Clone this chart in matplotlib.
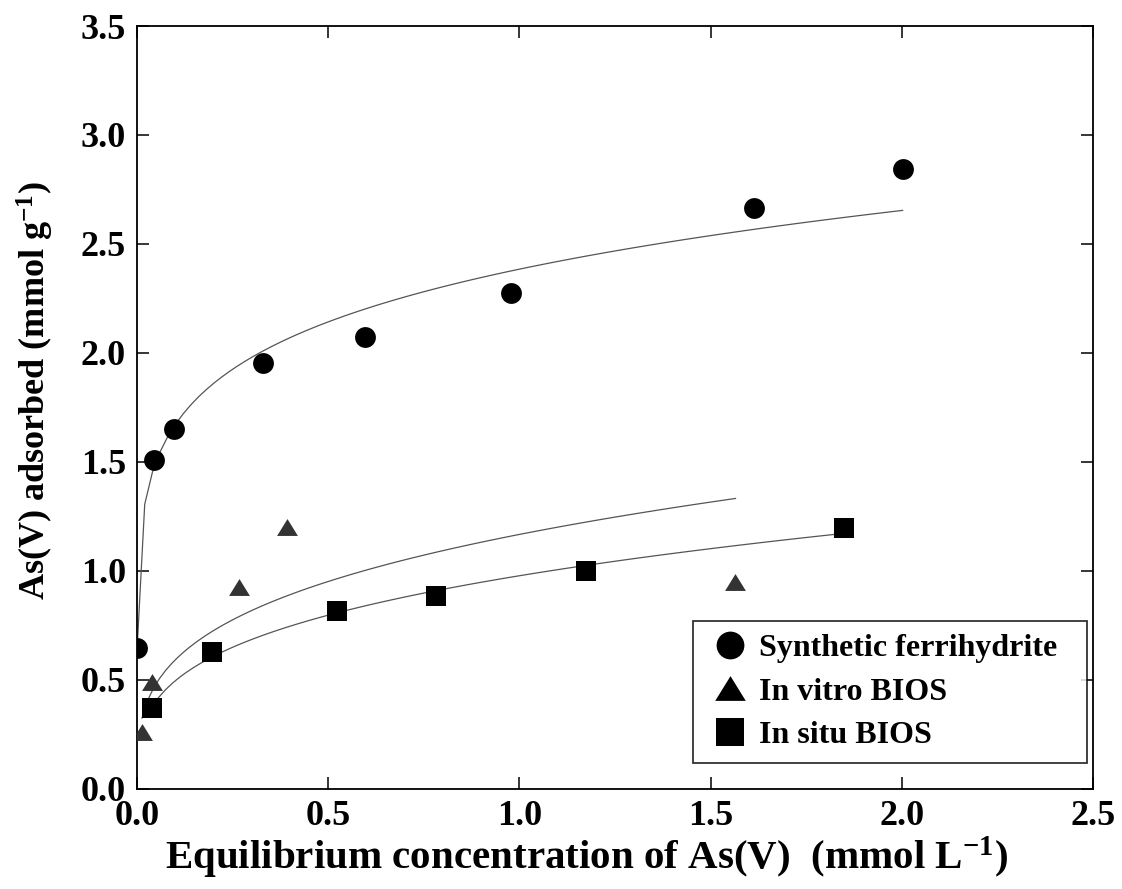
import numpy as np
import matplotlib
matplotlib.use('Agg')
import matplotlib.pyplot as plt
from matplotlib.lines import Line2D

plt.rcParams['font.family'] = 'Liberation Serif'
plt.rcParams['font.weight'] = 'bold'
plt.rcParams['axes.labelweight'] = 'bold'
plt.rcParams['mathtext.fontset'] = 'custom'
plt.rcParams['mathtext.rm'] = 'Liberation Serif:bold'
plt.rcParams['mathtext.bf'] = 'Liberation Serif:bold'
plt.rcParams['mathtext.default'] = 'rm'

# Synthetic ferrihydrite
ferri_x = [0.0002, 0.044, 0.096, 0.330, 0.597, 0.977, 1.613, 2.002]
ferri_y = [0.645, 1.508, 1.650, 1.952, 2.073, 2.273, 2.664, 2.845]
# In vitro BIOS
vitro_x = [0.013, 0.039, 0.266, 0.393, 1.565]
vitro_y = [0.260, 0.490, 0.926, 1.200, 0.949]
# In situ BIOS
situ_x = [0.039, 0.196, 0.522, 0.783, 1.173, 1.850]
situ_y = [0.368, 0.628, 0.815, 0.883, 1.000, 1.194]

labels = ['Synthetic ferrihydrite', 'In vitro BIOS', 'In situ BIOS']
xticks = [0.0, 0.5, 1.0, 1.5, 2.0, 2.5]
yticks = [0.0, 0.5, 1.0, 1.5, 2.0, 2.5, 3.0, 3.5]

tri = [(-1, -0.81), (1, -0.81), (0, 0.81)]


def freundlich(x, y):
    # log-linear fit  y = K x^(1/n)
    x = np.asarray(x)
    b, a = np.polyfit(np.log(x), np.log(y), 1)
    xs = np.linspace(x.min(), x.max(), 101)
    return xs, np.exp(a) * xs ** b


fig = plt.figure(figsize=(11.22, 8.89), dpi=100)
ax = fig.add_axes([0.1221, 0.1130, 0.8521, 0.8577])

for x, y in [(ferri_x, ferri_y), (vitro_x, vitro_y), (situ_x, situ_y)]:
    xs, ys = freundlich(x, y)
    ax.plot(xs, ys, color='#555555', lw=0.9, zorder=2)

ax.plot(ferri_x, ferri_y, ls='none', marker='o', ms=15, color='black', mew=0, zorder=3)
ax.plot(vitro_x, vitro_y, ls='none', marker=tri, ms=15, color='#333333', mew=0, zorder=3)
ax.plot(situ_x, situ_y, ls='none', marker='s', ms=15, color='black', mew=0, zorder=3)

ax.set_xlim(0, 2.5)
ax.set_ylim(0, 3.5)
ax.set_xticks(xticks)
ax.set_yticks(yticks)
ax.set_xticklabels([f'{t:.1f}' for t in xticks])
ax.set_yticklabels([f'{t:.1f}' for t in yticks])
ax.tick_params(direction='in', length=8.6, width=1.1, top=True, right=True,
               labelsize=26, pad=8)
for s in ax.spines.values():
    s.set_linewidth(1.3)

ax.set_xlabel(r'Equilibrium concentration of As(V)  (mmol L$^{-1}$)', fontsize=29.5)
ax.set_ylabel(r'As(V) adsorbed (mmol g$^{-1}$)', fontsize=26)
ax.xaxis.set_label_coords(0.47, -0.061)
ax.yaxis.set_label_coords(-0.085, 0.5226)

handles = [
    Line2D([], [], ls='none', marker='o', ms=20, color='black', mew=0),
    Line2D([], [], ls='none', marker=tri, ms=22, color='black', mew=0),
    Line2D([], [], ls='none', marker='s', ms=20, color='black', mew=0),
]
leg = ax.legend(handles, labels, loc='lower left', bbox_to_anchor=(0.582, 0.0334, 0.4117, 0.1),
                mode='expand', borderaxespad=0, fontsize=23, frameon=True, fancybox=False,
                edgecolor='black', borderpad=0.4, handlelength=1.5, handletextpad=0.15,
                labelspacing=0.45)
leg.get_frame().set_linewidth(1.3)

fig.savefig('out.png', dpi=100)
